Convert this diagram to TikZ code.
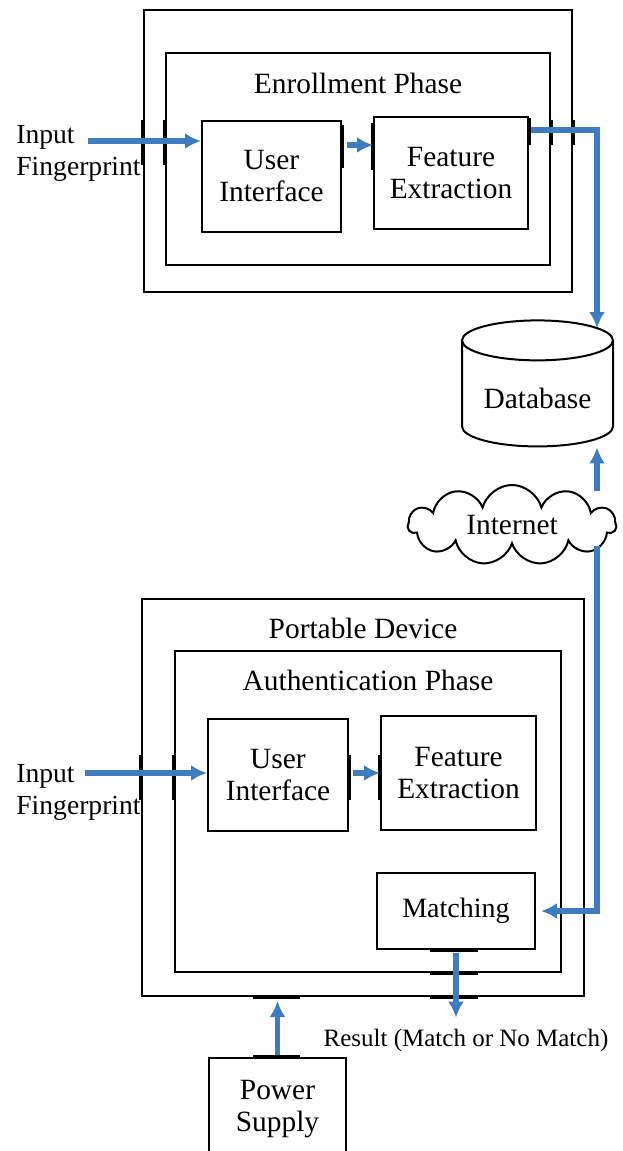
\documentclass[tikz,border=0pt]{standalone}
\usepackage{fontspec}
\setmainfont{Liberation Serif}
\usetikzlibrary{arrows.meta}
\usetikzlibrary{shapes.geometric}
\usetikzlibrary{shapes.symbols}
\definecolor{flowblue}{RGB}{62,124,191}
\tikzset{
	block/.style={draw,line width=1pt,align=center,inner sep=0pt},
	flow/.style={draw=flowblue,line width=2.6pt,-{Latex[length=8pt,width=8pt]}},
	port/.style={line width=2.2pt},
	inlabel/.style={anchor=west,align=left,inner sep=0pt,font=\fontsize{13.8}{16}\selectfont},
}

\begin{document}
\begin{tikzpicture}[x=0.5pt,y=-0.5pt,font=\fontsize{14.7}{16}\selectfont]
	\useasboundingbox (0,0) rectangle (622,1151);

	\draw (358,151) node (enrol) [block,minimum width=214pt,minimum height=141pt] {};
	\draw (358,159) node (enrolin) [block,minimum width=192pt,minimum height=106pt] {};
	\node (enroltitle) at (358,83) {Enrollment Phase};
	\draw (271.5,176.5) node (ui1) [block,minimum width=69.5pt,minimum height=55.5pt] {User\\Interface};
	\draw (451,173) node (fe1) [block,minimum width=77pt,minimum height=56pt] {Feature\\Extraction};
	\node (in1) [inlabel] at (16,153) {Input\\Fingerprint};
	\coordinate (in1tip) at (88,141);

	\draw[port] (enrol.west |- 0,120) -- (enrol.west |- 0,165);
	\draw[port] (enrolin.west |- 0,120) -- (enrolin.west |- 0,165);
	\draw[port] (ui1.east |- 0,125) -- (ui1.east |- 0,168);
	\draw[port] (fe1.west |- 0,123) -- (fe1.west |- 0,170);
	\draw[port] (fe1.east |- 0,118) -- (fe1.east |- 0,145);
	\draw[port] (enrolin.east |- 0,120) -- (enrolin.east |- 0,145);
	\draw[port] (enrol.east |- 0,120) -- (enrol.east |- 0,145);

	\draw (537.5,398) node (db) [cylinder,shape border rotate=90,draw,line width=1pt,aspect=0.33,minimum width=75.5pt,minimum height=63pt] {Database};
	\coordinate (dbin) at (597,328);
	\draw (512,525) node (net) [cloud,draw,line width=1pt,cloud puffs=11,cloud ignores aspect,minimum width=104pt,minimum height=40pt] {Internet};
	\coordinate (netup) at (597,491);
	\coordinate (netdown) at (597,546);

	\draw (363,797.5) node (dev) [block,minimum width=221pt,minimum height=198.5pt] {};
	\node (devtitle) at (363,628) {Portable Device};
	\draw (368,811.5) node (auth) [block,minimum width=193pt,minimum height=160.5pt] {};
	\node (authtitle) at (368,680) {Authentication Phase};
	\draw (278,775) node (ui2) [block,minimum width=70pt,minimum height=56pt] {User\\Interface};
	\draw (458.5,773) node (fe2) [block,minimum width=77.5pt,minimum height=57pt] {Feature\\Extraction};
	\draw (456,911) node (match) [block,minimum width=79pt,minimum height=38pt,font=\fontsize{14}{16}\selectfont] {Matching};
	\node (in2) [inlabel] at (16,792) {Input\\Fingerprint};
	\coordinate (in2tip) at (85,773);
	\node (res) at (466,1040) [font=\fontsize{12.5}{14}\selectfont] {Result (Match or No Match)};
	\draw (277.5,1109) node (pow) [block,minimum width=68.5pt,minimum height=51pt] {Power\\Supply};

	\draw[port] (dev.west |- 0,755) -- (dev.west |- 0,800);
	\draw[port] (auth.west |- 0,755) -- (auth.west |- 0,800);
	\draw[port] (ui2.east |- 0,755) -- (ui2.east |- 0,800);
	\draw[port] (fe2.west |- 0,755) -- (fe2.west |- 0,800);
	\draw[port] (430,0 |- match.south) -- (478,0 |- match.south);
	\draw[port] (430,0 |- auth.south) -- (478,0 |- auth.south);
	\draw[port] (430,0 |- dev.south) -- (478,0 |- dev.south);
	\draw[port] (253,0 |- dev.south) -- (300,0 |- dev.south);
	\draw[port] (253,0 |- pow.north) -- (300,0 |- pow.north);

	\draw[flow] (in1tip) -- (ui1.west |- in1tip);
	\draw[flow,shorten <=2.5pt] (ui1.east |- 0,145) -- (fe1.west |- 0,145);
	\draw[flow,shorten <=1pt] (fe1.east |- 0,130) -| (dbin);
	\draw[flow] (netup) -- (netup |- db.bottom);
	\draw[flow,shorten >=2.5pt] (netdown) |- (match.east);
	\draw[flow] (in2tip) -- (ui2.west |- in2tip);
	\draw[flow,shorten <=2pt] (ui2.east |- 0,773) -- (fe2.west |- 0,773);
	\draw[flow,shorten <=1.5pt,shorten >=2pt] (match.south) -- (match.south |- res.north);
	\draw[flow,shorten <=1pt,shorten >=2pt] (pow.north) -- (pow.north |- dev.south);
\end{tikzpicture}
\end{document}
